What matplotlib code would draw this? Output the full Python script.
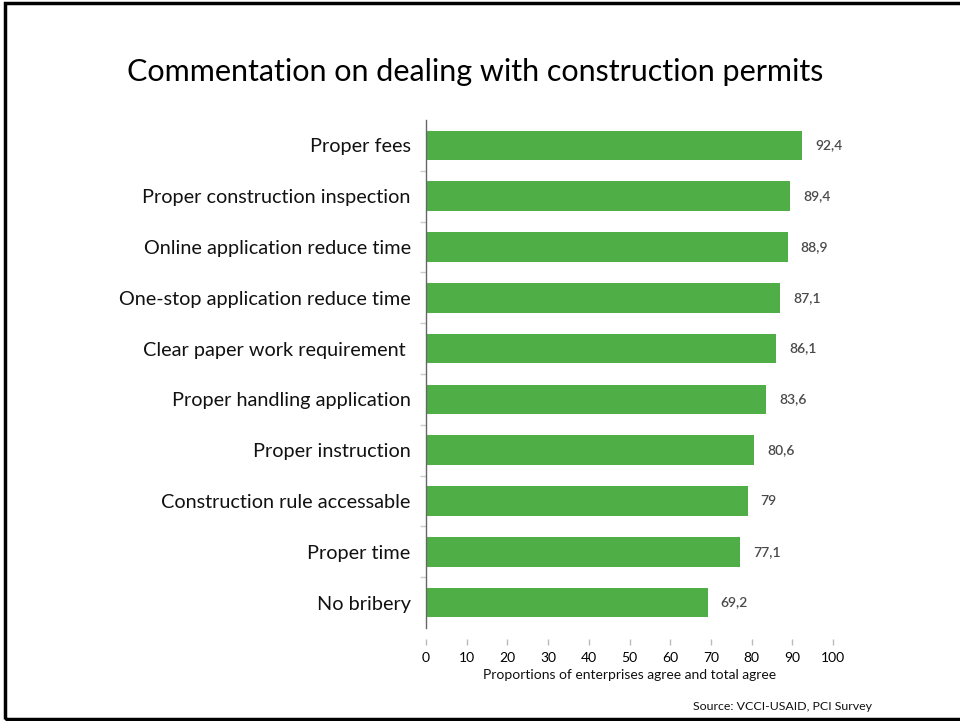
import matplotlib
matplotlib.use("Agg")
import matplotlib.pyplot as plt
from matplotlib.patches import Rectangle

categories = [
    "Proper fees",
    "Proper construction inspection",
    "Online application reduce time",
    "One-stop application reduce time",
    "Clear paper work requirement ",
    "Proper handling application",
    "Proper instruction",
    "Construction rule accessable",
    "Proper time",
    "No bribery",
]
values = [92.4, 89.4, 88.9, 87.1, 86.1, 83.6, 80.6, 79, 77.1, 69.2]
value_labels = ["92,4", "89,4", "88,9", "87,1", "86,1", "83,6", "80,6", "79", "77,1", "69,2"]
xticks = [0, 10, 20, 30, 40, 50, 60, 70, 80, 90, 100]

plt.rcParams['font.family'] = ['Lato', 'DejaVu Sans']

fig = plt.figure(figsize=(9.6, 7.21), dpi=100)
ax = fig.add_axes([426 / 960, 1 - 628 / 721, 407 / 960, 508 / 721])

pos = list(range(len(categories)))
ax.barh(pos, values, height=0.58, color='#50ae47')
ax.set_ylim(len(categories) - 0.5, -0.5)
ax.set_xlim(0, 100)

for p, v, lab in zip(pos, values, value_labels):
    ax.text(v + 3.2, p, lab, va='center', ha='left', fontsize=10,
            color='#4a4a4a', fontweight='semibold')

ax.set_yticks(pos)
ax.set_yticklabels(categories, fontsize=14.3, color='#111111')
ax.set_yticks([p + 0.5 for p in pos[:-1]], minor=True)
ax.tick_params(axis='y', which='major', length=0, pad=11)
ax.tick_params(axis='y', which='minor', length=4, color='#cccccc', width=1)

ax.set_xticks(xticks)
ax.set_xticklabels([str(t) for t in xticks], fontsize=7.2, color='#555555')
ax.tick_params(axis='x', length=4, color='#bbbbbb', width=1, pad=5)
ax.spines['bottom'].set_position(('outward', 8))
ax.spines['bottom'].set_visible(False)
ax.spines['top'].set_visible(False)
ax.spines['right'].set_visible(False)
ax.spines['left'].set_color('#666666')
ax.spines['left'].set_linewidth(1)
ax.set_xlabel("Proportions of enterprises agree and total agree", fontsize=10,
              color='#111111', labelpad=4)

fig.text(0.495, 0.90, "Commentation on dealing with construction permits",
         ha='center', va='center', fontsize=22, color='black')
fig.text(872 / 960, 1 - 707 / 721, "Source: VCCI-USAID, PCI Survey",
         ha='right', va='center', fontsize=8.9, color='#111111')

# frame around the slide
fig.patches.append(Rectangle((4.5 / 960, 2.5 / 721), 1.1, 1 - 5 / 721,
                             transform=fig.transFigure, fill=False,
                             edgecolor='black', linewidth=2.5))

fig.savefig("out.png", dpi=100)
